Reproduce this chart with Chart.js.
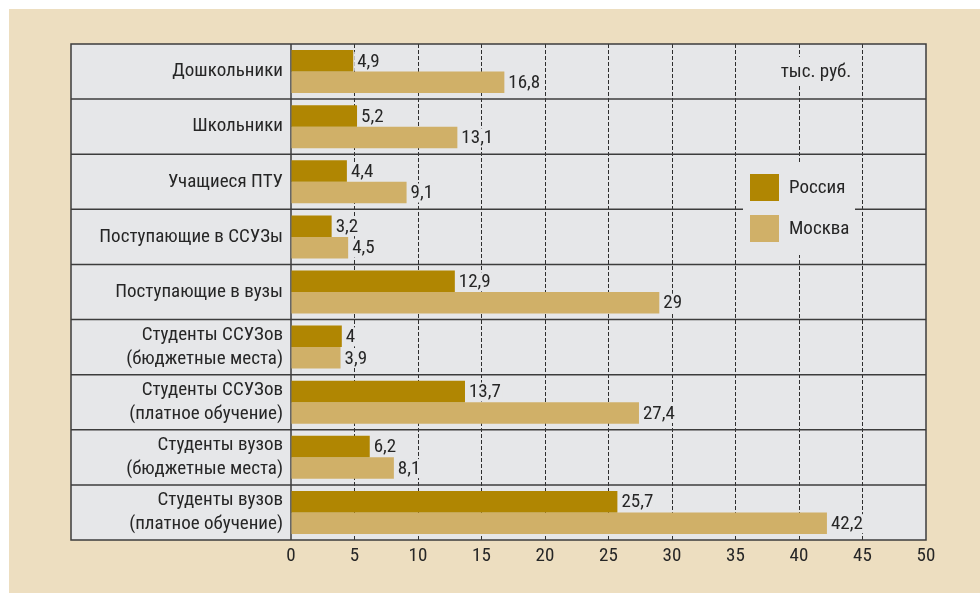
<!DOCTYPE html>
<html>
<head>
<meta charset="utf-8">
<script src="https://cdn.jsdelivr.net/npm/chart.js@4.4.1/dist/chart.umd.min.js"></script>
<style>
html,body{margin:0;padding:0;background:#fff;}
#wrap{width:980px;height:594px;position:relative;}
</style>
</head>
<body>
<div id="wrap"><canvas id="c" width="980" height="594"></canvas></div>
<script>
const categories = [
  ["Дошкольники"],
  ["Школьники"],
  ["Учащиеся ПТУ"],
  ["Поступающие в ССУЗы"],
  ["Поступающие в вузы"],
  ["Студенты ССУЗов", "(бюджетные места)"],
  ["Студенты ССУЗов", "(платное обучение)"],
  ["Студенты вузов", "(бюджетные места)"],
  ["Студенты вузов", "(платное обучение)"]
];
const seriesNames = ["Россия", "Москва"];
const russia = [4.9, 5.2, 4.4, 3.2, 12.9, 4, 13.7, 6.2, 25.7];
const moscow = [16.8, 13.1, 9.1, 4.5, 29, 3.9, 27.4, 8.1, 42.2];
const xTicks = [0, 5, 10, 15, 20, 25, 30, 35, 40, 45, 50];
const unitText = "тыс. руб.";

const BEIGE = '#eddec0';
const GRAY = '#e6e7e9';
const C_RUS = '#b08602';
const C_MOS = '#d0b068';
const INK = '#262626';
const LINE = '#3c3c3c';
const FONT = "'Liberation Sans Narrow', 'Roboto Condensed', 'Liberation Sans', sans-serif";
const BOX_LEFT = 71;

Chart.defaults.font.family = FONT;
Chart.defaults.color = INK;

const fmt = v => String(v).replace('.', ',');

const deco = {
  id: 'deco',
  beforeDraw(chart) {
    const {ctx, chartArea: a} = chart;
    ctx.save();
    ctx.fillStyle = '#ffffff';
    ctx.fillRect(0, 0, chart.width, chart.height);
    ctx.fillStyle = BEIGE;
    ctx.fillRect(9, 9, chart.width - 9, chart.height - 10);
    ctx.fillStyle = GRAY;
    ctx.fillRect(BOX_LEFT, a.top, a.right - BOX_LEFT, a.bottom - a.top);
    ctx.restore();
  },
  beforeDatasetsDraw(chart) {
    const {ctx, chartArea: a} = chart;
    const ys = chart.scales.y, xs = chart.scales.x;
    ctx.save();
    // background boxes for unit text and legend (cover gridlines)
    ctx.fillStyle = GRAY;
    ctx.fillRect(776, 57, 80, 28);
    ctx.fillRect(743, 163, 112, 92);
    // row separators
    ctx.strokeStyle = LINE;
    ctx.lineWidth = 1.5;
    for (let i = 1; i < categories.length; i++) {
      const yy = (ys.getPixelForValue(i - 1) + ys.getPixelForValue(i)) / 2;
      const segs = (yy > 163 && yy < 255) ? [[BOX_LEFT, 743], [855, a.right]] : [[BOX_LEFT, a.right]];
      segs.forEach(s => {
        ctx.beginPath();
        ctx.moveTo(s[0], yy);
        ctx.lineTo(s[1], yy);
        ctx.stroke();
      });
    }
    // zero line
    const x0 = xs.getPixelForValue(0);
    ctx.beginPath();
    ctx.moveTo(x0, a.top);
    ctx.lineTo(x0, a.bottom);
    ctx.stroke();
    // box border
    ctx.strokeRect(BOX_LEFT, a.top, a.right - BOX_LEFT, a.bottom - a.top);
    ctx.restore();
  },
  afterDatasetsDraw(chart) {
    const {ctx} = chart;
    ctx.save();
    ctx.font = "19px " + FONT;
    ctx.textBaseline = 'middle';
    ctx.textAlign = 'left';
    chart.data.datasets.forEach((ds, di) => {
      const meta = chart.getDatasetMeta(di);
      meta.data.forEach((bar, i) => {
        const txt = fmt(ds.data[i]);
        const w = ctx.measureText(txt).width;
        const x = bar.x + 4;
        ctx.fillStyle = GRAY;
        ctx.fillRect(bar.x + 1, bar.y - 9, w + 5, 19);
        ctx.fillStyle = INK;
        ctx.fillText(txt, x, bar.y + 1);
      });
    });
    // unit text
    ctx.textAlign = 'center';
    ctx.fillText(unitText, 816, 72);
    // legend
    const colors = [C_RUS, C_MOS];
    const ly = [174, 215];
    ctx.textAlign = 'left';
    seriesNames.forEach((n, i) => {
      ctx.fillStyle = colors[i];
      ctx.fillRect(750, ly[i], 29, 27);
      ctx.fillStyle = INK;
      ctx.fillText(n, 789, ly[i] + 14);
    });
    ctx.restore();
  }
};

new Chart(document.getElementById('c'), {
  type: 'bar',
  data: {
    labels: categories,
    datasets: [
      {label: seriesNames[0], data: russia, backgroundColor: C_RUS},
      {label: seriesNames[1], data: moscow, backgroundColor: C_MOS}
    ]
  },
  options: {
    indexAxis: 'y',
    responsive: false,
    animation: false,
    devicePixelRatio: 1,
    categoryPercentage: 0.78,
    barPercentage: 1.0,
    layout: {padding: {left: BOX_LEFT, right: 54, top: 44, bottom: 0}},
    plugins: {legend: {display: false}, tooltip: {enabled: false}},
    scales: {
      x: {
        type: 'linear',
        min: xTicks[0],
        max: xTicks[xTicks.length - 1],
        afterBuildTicks: s => { s.ticks = xTicks.map(v => ({value: v})); },
        afterFit: s => { s.height = 54; },
        ticks: {font: {size: 19}, color: INK, padding: 5, callback: v => String(v)},
        grid: {
          drawTicks: false,
          lineWidth: 1,
          color: ctx => (ctx.tick && ctx.tick.value > 0 && ctx.tick.value < 50) ? '#2e2e2e' : 'rgba(0,0,0,0)'
        },
        border: {display: false, dash: [4, 2]}
      },
      y: {
        afterFit: s => { s.width = 220; },
        ticks: {font: {size: 19, lineHeight: 1.25}, color: INK, padding: 8},
        grid: {display: false, drawTicks: false},
        border: {display: false}
      }
    }
  },
  plugins: [deco]
});
</script>
</body>
</html>
